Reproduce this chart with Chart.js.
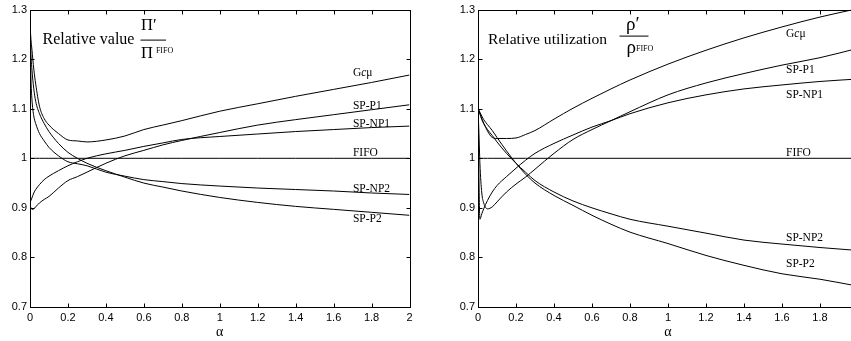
<!DOCTYPE html>
<html>
<head>
<meta charset="utf-8">
<script src="https://cdn.jsdelivr.net/npm/chart.js@4.4.1/dist/chart.umd.min.js"></script>
<style>
html, body { margin: 0; padding: 0; background: #fff; overflow: hidden; width: 851px; height: 341px; }
.panel { position: absolute; top: 0; height: 341px; }
#p1 { left: 0; width: 420px; }
#p2 { left: 448px; width: 420px; }
</style>
</head>
<body>
<div class="panel" id="p1"><canvas id="valueChart" width="420" height="341"></canvas></div>
<div class="panel" id="p2"><canvas id="utilChart" width="420" height="341"></canvas></div>
<script>
// alpha grid shared by every curve
const alpha = [0, 0.005, 0.01, 0.02, 0.03, 0.05, 0.075, 0.1, 0.15, 0.2, 0.25, 0.3, 0.4, 0.5, 0.6, 0.7, 0.8, 1.0, 1.2, 1.4, 1.6, 1.8, 2.0];

const xTicks = [0, 0.2, 0.4, 0.6, 0.8, 1, 1.2, 1.4, 1.6, 1.8, 2];
const xTickLabels = ['0', '0.2', '0.4', '0.6', '0.8', '1', '1.2', '1.4', '1.6', '1.8', '2'];
const yTicks = [0.7, 0.8, 0.9, 1, 1.1, 1.2, 1.3];
const yTickLabels = ['0.7', '0.8', '0.9', '1', '1.1', '1.2', '1.3'];

const seriesNames = ['Gcμ', 'SP-P1', 'SP-NP1', 'FIFO', 'SP-NP2', 'SP-P2'];

// left panel: relative value
const valueGcmu  = [1.27, 1.24, 1.22, 1.18, 1.15, 1.105, 1.08, 1.067, 1.05, 1.037, 1.035, 1.033, 1.037, 1.045, 1.058, 1.067, 1.076, 1.095, 1.11, 1.125, 1.139, 1.153, 1.168];
const valueSPP1  = [0.905, 0.90, 0.897, 0.898, 0.902, 0.91, 0.917, 0.923, 0.94, 0.955, 0.963, 0.972, 0.99, 1.005, 1.016, 1.027, 1.036, 1.052, 1.067, 1.078, 1.088, 1.098, 1.108];
const valueSPNP1 = [0.91, 0.915, 0.92, 0.93, 0.937, 0.947, 0.957, 0.964, 0.975, 0.985, 0.993, 1.0, 1.009, 1.016, 1.024, 1.031, 1.038, 1.044, 1.049, 1.054, 1.058, 1.062, 1.065];
const valueFIFO  = [1, 1, 1, 1, 1, 1, 1, 1, 1, 1, 1, 1, 1, 1, 1, 1, 1, 1, 1, 1, 1, 1, 1];
const valueSPNP2 = [1.25, 1.16, 1.12, 1.085, 1.07, 1.05, 1.035, 1.022, 1.005, 0.993, 0.989, 0.985, 0.972, 0.964, 0.957, 0.953, 0.949, 0.944, 0.940, 0.937, 0.934, 0.930, 0.927];
const valueSPP2  = [1.27, 1.21, 1.18, 1.14, 1.115, 1.09, 1.07, 1.054, 1.03, 1.012, 1.0, 0.99, 0.975, 0.962, 0.95, 0.942, 0.934, 0.921, 0.911, 0.903, 0.897, 0.891, 0.885];

// right panel: relative utilization
const utilGcmu  = [1.10, 1.095, 1.09, 1.08, 1.071, 1.055, 1.042, 1.040, 1.040, 1.041, 1.048, 1.056, 1.079, 1.101, 1.121, 1.140, 1.158, 1.190, 1.218, 1.243, 1.265, 1.285, 1.302];
const utilSPP1  = [1.10, 1.05, 0.99, 0.93, 0.91, 0.898, 0.902, 0.912, 0.932, 0.948, 0.962, 0.978, 1.010, 1.038, 1.058, 1.076, 1.094, 1.128, 1.152, 1.171, 1.188, 1.203, 1.222];
const utilSPNP1 = [1.10, 0.96, 0.877, 0.888, 0.898, 0.915, 0.932, 0.945, 0.963, 0.980, 0.996, 1.010, 1.030, 1.047, 1.063, 1.076, 1.090, 1.112, 1.128, 1.140, 1.148, 1.155, 1.160];
const utilFIFO  = [1, 1, 1, 1, 1, 1, 1, 1, 1, 1, 1, 1, 1, 1, 1, 1, 1, 1, 1, 1, 1, 1, 1];
const utilSPNP2 = [1.10, 1.095, 1.09, 1.078, 1.07, 1.058, 1.046, 1.033, 1.01, 0.99, 0.972, 0.955, 0.932, 0.914, 0.900, 0.888, 0.877, 0.863, 0.849, 0.835, 0.827, 0.820, 0.814];
const utilSPP2  = [1.10, 1.097, 1.093, 1.085, 1.078, 1.068, 1.056, 1.042, 1.015, 0.99, 0.968, 0.950, 0.925, 0.905, 0.885, 0.867, 0.851, 0.828, 0.804, 0.784, 0.767, 0.756, 0.742];

Chart.defaults.font.family = '"Liberation Sans", Arial, sans-serif';
Chart.defaults.font.size = 11;
Chart.defaults.color = '#000';

const serif = '"Liberation Serif", "Times New Roman", serif';

function makeDatasets(lists) {
    return lists.map((vals, i) => ({
        label: seriesNames[i],
        data: alpha.map((a, j) => ({ x: a, y: vals[j] })),
        borderColor: '#000',
        borderWidth: 1,
        pointRadius: 0,
        showLine: true,
        fill: false,
        cubicInterpolationMode: 'monotone'
    }));
}

// draws text made of pieces with their own fonts
function richText(ctx, parts, x, y) {
    parts.forEach(p => {
        ctx.font = p.f;
        ctx.fillText(p.t, x, y);
        x += ctx.measureText(p.t).width;
    });
}

function curveLabel(name, a, v) {
    const f = '11.5px ' + serif;
    const parts = name === 'Gcμ'
        ? [{ t: 'G', f: f }, { t: 'c', f: 'italic ' + f }, { t: 'μ', f: f }]
        : [{ t: name, f: f }];
    return { parts: parts, x: a, y: v };
}

// box, inward ticks, curve names and heading
const frame = {
    id: 'frame',
    afterDraw(chart, args, opts) {
        const { ctx, chartArea: a, scales: { x, y } } = chart;
        const L = Math.round(a.left) + 0.5, R = Math.round(a.right) + 0.5;
        const T = Math.round(a.top) + 0.5, B = Math.round(a.bottom) + 0.5;
        ctx.save();
        ctx.strokeStyle = '#000';
        ctx.lineWidth = 1;
        ctx.strokeRect(L, T, R - L, B - T);
        ctx.beginPath();
        xTicks.forEach(v => {
            const px = Math.round(x.getPixelForValue(v)) + 0.5;
            ctx.moveTo(px, B); ctx.lineTo(px, B - 4);
            ctx.moveTo(px, T); ctx.lineTo(px, T + 4);
        });
        yTicks.forEach(v => {
            const py = Math.round(y.getPixelForValue(v)) + 0.5;
            ctx.moveTo(L, py); ctx.lineTo(L + 4, py);
            ctx.moveTo(R, py); ctx.lineTo(R - 4, py);
        });
        ctx.stroke();

        ctx.fillStyle = '#000';
        ctx.textBaseline = 'alphabetic';
        ctx.textAlign = 'left';
        opts.labels.forEach(l => richText(ctx, l.parts, x.getPixelForValue(l.x), y.getPixelForValue(l.y)));
        opts.heading(ctx, a.left, a.top);
        ctx.restore();
    }
};

function headingValue(ctx, L, T) {
    ctx.font = '16px ' + serif;
    ctx.fillText('Relative value', L + 12.5, T + 34.5);
    ctx.font = '16.5px ' + serif;
    ctx.fillText('Π′', L + 111, T + 20.5);
    ctx.fillText('Π', L + 111, T + 48.5);
    const w = ctx.measureText('Π').width;
    ctx.font = '8px ' + serif;
    ctx.fillText('FIFO', L + 111 + w + 3, T + 43);
    ctx.fillRect(L + 110.5, T + 30, 25.5, 1);
}

function headingUtil(ctx, L, T) {
    ctx.font = '15.6px ' + serif;
    ctx.fillText('Relative utilization', L + 10, T + 34.2);
    ctx.font = '19px ' + serif;
    ctx.fillText('ρ′', L + 148, T + 20.5);
    ctx.fillText('ρ', L + 148.5, T + 43.5);
    ctx.font = '8px ' + serif;
    ctx.fillText('FIFO', L + 158, T + 41.5);
    ctx.fillRect(L + 141.5, T + 26, 29, 1);
}

function makeOptions(padTop, padRight, labels, heading) {
    return {
        responsive: false,
        animation: false,
        layout: { padding: { top: padTop, right: padRight, bottom: 0, left: 0 } },
        plugins: {
            legend: { display: false },
            tooltip: { enabled: false },
            frame: { labels: labels, heading: heading }
        },
        scales: {
            x: {
                type: 'linear',
                min: 0,
                max: 2,
                afterBuildTicks: s => { s.ticks = xTicks.map(v => ({ value: v })); },
                afterFit: s => { s.height = 34; },
                grid: { display: false, drawTicks: false },
                border: { display: false },
                ticks: {
                    padding: 4,
                    autoSkip: false,
                    maxRotation: 0,
                    callback: (v, i) => xTickLabels[i]
                },
                title: {
                    display: true,
                    text: 'α',
                    font: { family: serif, size: 14 },
                    padding: { top: 0, bottom: 0 }
                }
            },
            y: {
                min: 0.7,
                max: 1.3,
                afterBuildTicks: s => { s.ticks = yTicks.map(v => ({ value: v })); },
                afterFit: s => { s.width = 30; },
                grid: { display: false, drawTicks: false },
                border: { display: false },
                ticks: {
                    padding: 3,
                    callback: (v, i) => yTickLabels[i]
                }
            }
        }
    };
}

const valueLabels = [
    curveLabel('Gcμ', 1.702, 1.1655),
    curveLabel('SP-P1', 1.702, 1.099),
    curveLabel('SP-NP1', 1.702, 1.063),
    curveLabel('FIFO', 1.702, 1.004),
    curveLabel('SP-NP2', 1.702, 0.933),
    curveLabel('SP-P2', 1.702, 0.8715)
];

const utilLabels = [
    curveLabel('Gcμ', 1.621, 1.245),
    curveLabel('SP-P1', 1.621, 1.173),
    curveLabel('SP-NP1', 1.621, 1.121),
    curveLabel('FIFO', 1.621, 1.0055),
    curveLabel('SP-NP2', 1.621, 0.834),
    curveLabel('SP-P2', 1.621, 0.780)
];

new Chart(document.getElementById('valueChart').getContext('2d'), {
    type: 'scatter',
    data: { datasets: makeDatasets([valueGcmu, valueSPP1, valueSPNP1, valueFIFO, valueSPNP2, valueSPP2]) },
    options: makeOptions(8, 10.5, valueLabels, headingValue),
    plugins: [frame]
});

new Chart(document.getElementById('utilChart').getContext('2d'), {
    type: 'scatter',
    data: { datasets: makeDatasets([utilGcmu, utilSPP1, utilSPNP1, utilFIFO, utilSPNP2, utilSPP2]) },
    options: makeOptions(7.5, 10, utilLabels, headingUtil),
    plugins: [frame]
});
</script>
</body>
</html>
